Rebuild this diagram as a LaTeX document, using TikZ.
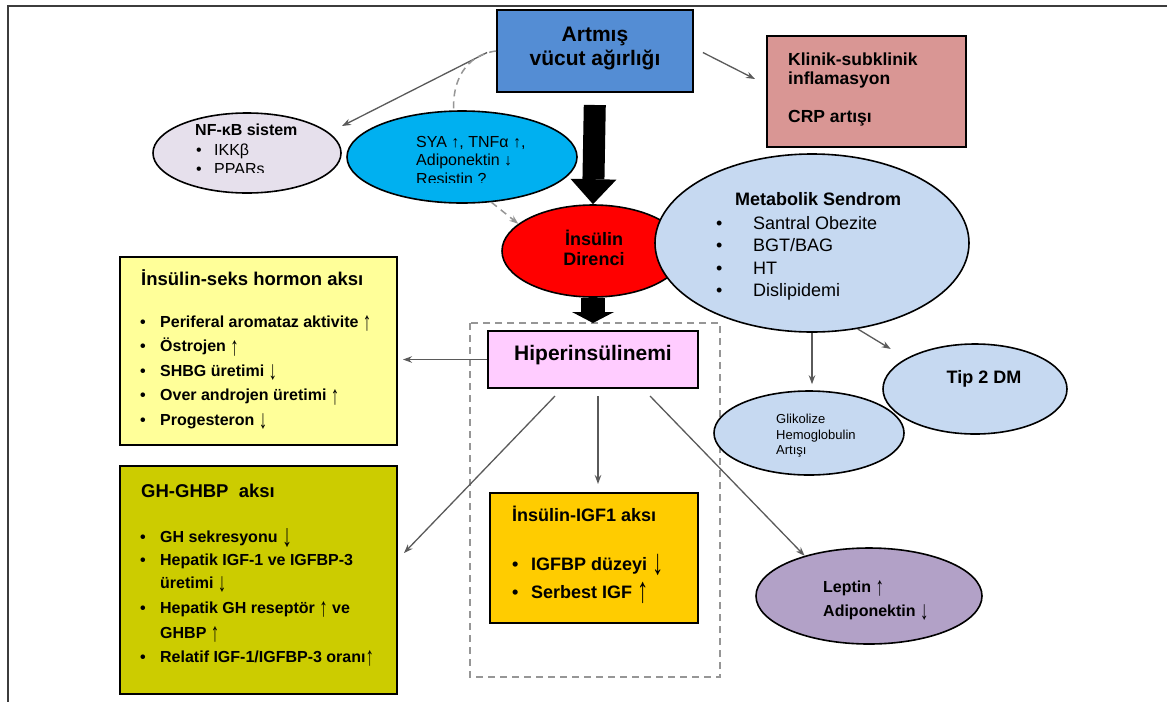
\documentclass[tikz,border=0pt]{standalone}
\usepackage{fontspec}
\usepackage{graphicx}
\setmainfont{Liberation Sans}
\usetikzlibrary{arrows.meta,shapes.geometric}
\definecolor{cArt}{RGB}{84,141,212}
\definecolor{cKlin}{RGB}{217,150,148}
\definecolor{cNF}{RGB}{230,224,236}
\definecolor{cSYA}{RGB}{0,176,240}
\definecolor{cRed}{RGB}{255,0,0}
\definecolor{cMet}{RGB}{198,217,241}
\definecolor{cHip}{RGB}{255,204,255}
\definecolor{cSeks}{RGB}{255,255,153}
\definecolor{cGH}{RGB}{204,204,0}
\definecolor{cIGF}{RGB}{255,204,0}
\definecolor{cLep}{RGB}{178,161,199}
\definecolor{cArrow}{RGB}{90,90,90}
\definecolor{cDash}{RGB}{150,150,150}
\definecolor{cFrame}{RGB}{60,60,60}
\newcommand\fsb[1]{\fontsize{#1}{#1}\selectfont\bfseries}
\newcommand\fsr[1]{\fontsize{#1}{#1}\selectfont\mdseries}
\newcommand\uarr{\raisebox{-3.5pt}{\mdseries\scalebox{1.05}[1.65]{↑}}}
\newcommand\darr{\raisebox{-3.5pt}{\mdseries\scalebox{1.05}[1.65]{↓}}}
\newcommand\buarr{\raisebox{-4.5pt}{\mdseries\scalebox{1.25}[2.0]{↑}}}
\newcommand\bdarr{\raisebox{-4.5pt}{\mdseries\scalebox{1.25}[2.0]{↓}}}
\tikzset{
  box/.style={draw=black, line width=2pt, rectangle, inner sep=0pt},
  ell/.style={draw=black, line width=1.6pt, ellipse, inner sep=0pt},
  tl/.style={anchor=base west, inner sep=0pt},
  tc/.style={anchor=base, inner sep=0pt},
  arr/.style={draw=cArrow, line width=1.3pt, -{Stealth[length=9pt,width=6.5pt]}},
  dsh/.style={draw=cDash, line width=1.5pt, dash pattern=on 7pt off 5pt},
  bigarr/.style={draw=black, line width=22pt, -{Triangle[length=25pt,width=46pt,line width=0pt]}},
  bigarrb/.style={draw=black, line width=24pt, -{Triangle[length=11pt,width=42pt,line width=0pt]}},
  frame/.style={draw=cFrame, line width=2.5pt},
  dbox/.style={draw=cDash, line width=1.5pt, dash pattern=on 7pt off 5pt}
}
\begin{document}
\begin{tikzpicture}[x=1pt,y=-1pt]
\useasboundingbox (0,0) rectangle (1167,702);
\fill[white] (0,0) rectangle (1167,702);
\draw[frame] (1167,6) -- (8,6) -- (8,702);
\draw[dbox] (470,323) rectangle (720,677);

% ---------- shapes ----------
\node[box, fill=cArt, minimum width=196pt, minimum height=82pt] (art) at (595,51) {};
\node[box, fill=cKlin, minimum width=199pt, minimum height=111pt] (klin) at (866.5,91.5) {};
\node[ell, fill=cNF, minimum width=188pt, minimum height=80pt] (nf) at (247,153) {};
\node[ell, fill=cSYA, minimum width=230pt, minimum height=92pt] (sya) at (462,157) {};
\node[box, fill=cHip, minimum width=210pt, minimum height=57pt] (hip) at (593,359.5) {};
\node[ell, fill=cRed, minimum width=182pt, minimum height=92pt] (ins) at (593,251) {};
\draw[bigarrb, shorten >=7pt] (ins.south) -- (hip.north);
\node[ell, fill=cMet, minimum width=314pt, minimum height=178pt] (met) at (812,243) {};
\node[box, fill=cSeks, minimum width=277pt, minimum height=188pt] (seks) at (258.5,351) {};
\node[box, fill=cGH, minimum width=277pt, minimum height=228pt] (gh) at (258.5,580) {};
\node[box, fill=cIGF, minimum width=208pt, minimum height=130pt] (igf) at (594,558) {};
\node[ell, fill=cMet, minimum width=184pt, minimum height=90pt] (tip) at (975,389) {};
\node[ell, fill=cMet, minimum width=190pt, minimum height=84pt] (gli) at (809,433) {};
\node[ell, fill=cLep, minimum width=226pt, minimum height=96pt] (lep) at (869,596) {};

% ---------- connectors ----------
\coordinate (nfTip) at (342,126);
\coordinate (klTip) at (755,79);
\draw[arr, shorten <=10pt] ([yshift=3pt]art.west) -- (nfTip);
\draw[arr, shorten <=10pt] ([yshift=3pt]art.east) -- (klTip);
\draw[dsh] (art.west) .. controls (465,55) and (452,82) .. (sya.100);
\draw[dsh, -{Stealth[length=9pt,width=6.5pt]}] (sya.-57) -- (ins.160);
\draw[bigarr, shorten <=12pt] (art.south) -- (ins.north);
\draw[arr, shorten >=5pt] (hip.west) -- (hip.west -| seks.east);
\draw[arr] ([xshift=-38pt,yshift=-7pt]hip.south) -- ([xshift=6pt,yshift=27pt]gh.east);
\draw[arr] ([xshift=5pt,yshift=-7pt]hip.south) -- ([xshift=4pt,yshift=8pt]igf.north);
\draw[arr] ([xshift=57pt,yshift=-7pt]hip.south) -- (lep.148);
\draw[arr, shorten >=6pt] (met.south) -- (met.south |- gli.north);
\draw[arr, shorten >=18pt] (met.-62) -- (tip.156);

% ---------- texts ----------
\node[tc, font=\fsb{21}] (artA) at (595,41) {Artmış};
\node[tc, font=\fsb{21}] (artB) at (595,65) {vücut ağırlığı};

\node[tl, font=\fsb{17.5}] (klA) at (788,65) {Klinik-subklinik};
\node[tl, font=\fsb{17.5}] (klB) at (788,84) {inflamasyon};
\node[tl, font=\fsb{17.5}] (klC) at (788,122) {CRP artışı};

\node[tl, font=\fsb{16}] (nfA) at (195,135) {NF-κB sistem};
\begin{scope}
\clip (150,100) rectangle (345,172.5);
\node[tl, font=\fsr{16}] (nfB) at (196,155) {\makebox[18pt][l]{•}IKKβ};
\node[tl, font=\fsr{16}] (nfC) at (196,174) {\makebox[18pt][l]{•}PPARs};
\end{scope}

\begin{scope}
\clip (340,115) rectangle (580,182);
\node[tl, font=\fsr{16}] (syaA) at (416,147) {SYA ↑, TNFα ↑,};
\node[tl, font=\fsr{16}] (syaB) at (416,165.5) {Adiponektin ↓};
\node[tl, font=\fsr{16}] (syaC) at (416,184) {Resistin ?};
\end{scope}

\node[tc, font=\fsb{18}] (insA) at (594,245) {İnsülin};
\node[tc, font=\fsb{18}] (insB) at (594,265) {Direnci};

\node[tl, font=\fsb{18}] (metA) at (735,205) {Metabolik Sendrom};
\node[tl, font=\fsr{18}] (metB) at (716,229) {\makebox[37pt][l]{•}Santral Obezite};
\node[tl, font=\fsr{18}] (metC) at (716,251.5) {\makebox[37pt][l]{•}BGT/BAG};
\node[tl, font=\fsr{18}] (metD) at (716,274) {\makebox[37pt][l]{•}HT};
\node[tl, font=\fsr{18}] (metE) at (716,296.5) {\makebox[37pt][l]{•}Dislipidemi};

\node[tc, font=\fsb{21}] (hipA) at (593,360) {Hiperinsülinemi};

\node[tl, font=\fsb{18.5}] (seksT) at (141,285) {İnsülin-seks hormon aksı};
\node[tl, font=\fsb{16}] (seksA) at (140,327) {\makebox[20pt][l]{•}Periferal aromataz aktivite \uarr};
\node[tl, font=\fsb{16}] (seksB) at (140,351.5) {\makebox[20pt][l]{•}Östrojen \uarr};
\node[tl, font=\fsb{16}] (seksC) at (140,376) {\makebox[20pt][l]{•}SHBG üretimi \darr};
\node[tl, font=\fsb{16}] (seksD) at (140,400.5) {\makebox[20pt][l]{•}Over androjen üretimi \uarr};
\node[tl, font=\fsb{16}] (seksE) at (140,425) {\makebox[20pt][l]{•}Progesteron \darr};

\node[tl, font=\fsb{18.5}] (ghT) at (141,497) {GH-GHBP\ \ aksı};
\node[tl, font=\fsb{16}] (ghA) at (140,542) {\makebox[20pt][l]{•}GH sekresyonu \bdarr};
\node[tl, font=\fsb{16}] (ghB) at (140,565) {\makebox[20pt][l]{•}Hepatik IGF-1 ve IGFBP-3};
\node[tl, font=\fsb{16}] (ghC) at (160,588) {üretimi \darr};
\node[tl, font=\fsb{16}] (ghD) at (140,613) {\makebox[20pt][l]{•}Hepatik GH reseptör \uarr\ ve};
\node[tl, font=\fsb{16}] (ghE) at (160,638) {GHBP \uarr};
\node[tl, font=\fsb{16}] (ghF) at (140,662) {\makebox[20pt][l]{•}Relatif IGF-1/IGFBP-3 oranı\uarr};

\node[tl, font=\fsb{18}] (igfT) at (512,521) {İnsülin-IGF1 aksı};
\node[tl, font=\fsb{18}] (igfA) at (512,570) {\makebox[19pt][l]{•}IGFBP düzeyi \bdarr};
\node[tl, font=\fsb{18}] (igfB) at (512,598) {\makebox[19pt][l]{•}Serbest IGF \buarr};

\node[tc, font=\fsb{18}] (tipA) at (984,383) {Tip 2 DM};

\node[tl, font=\fsr{13}] (gliA) at (776,423) {Glikolize};
\node[tl, font=\fsr{13}] (gliB) at (776,439) {Hemoglobulin};
\node[tl, font=\fsr{13}] (gliC) at (776,454) {Artışı};

\node[tl, font=\fsb{16}] (lepA) at (823,592) {Leptin \uarr};
\node[tl, font=\fsb{16}] (lepB) at (823,616) {Adiponektin \darr};
\end{tikzpicture}
\end{document}
